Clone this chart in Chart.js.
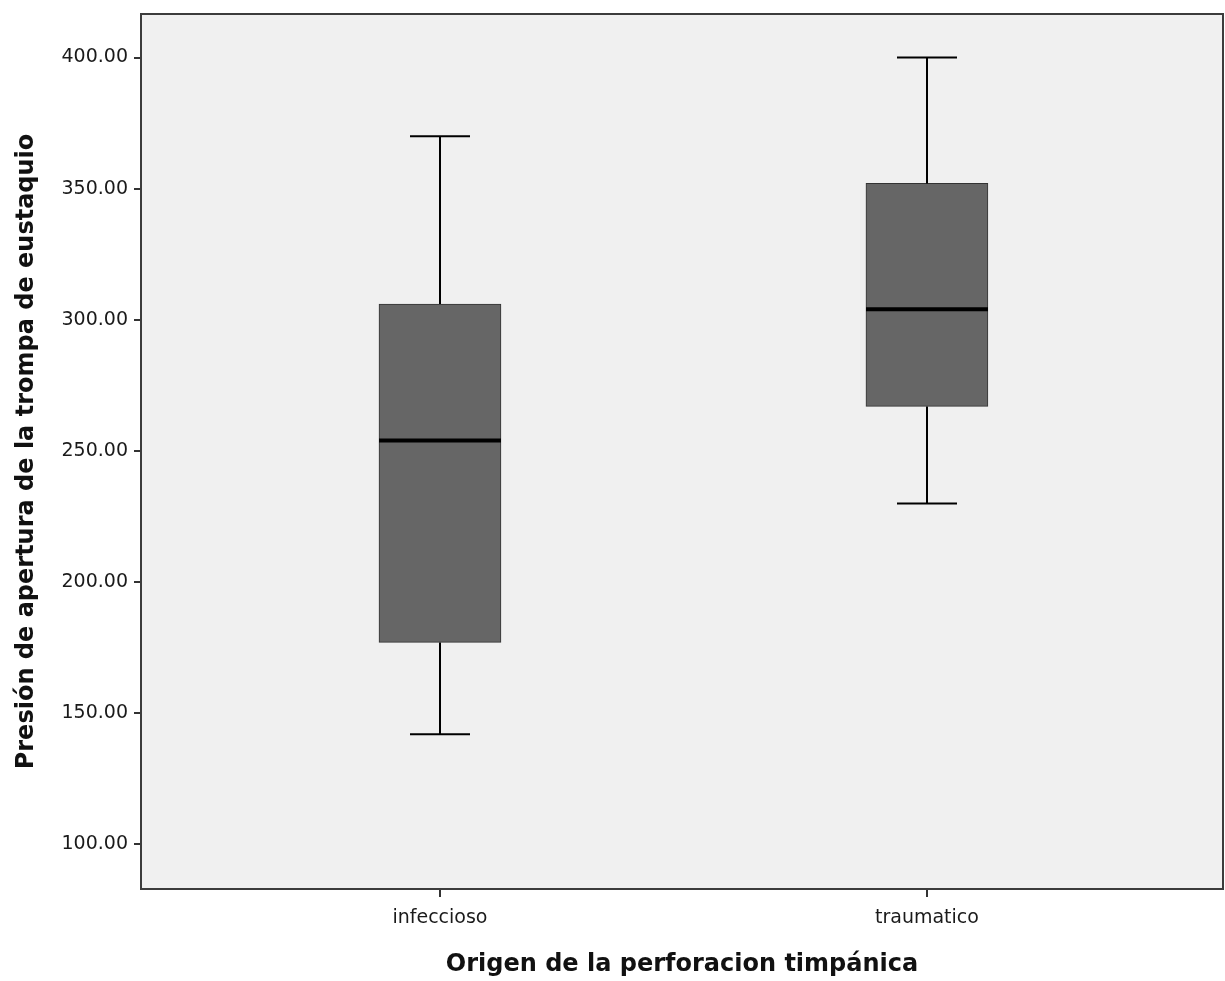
<!DOCTYPE html>
<html>
<head>
<meta charset="utf-8">
<script src="https://cdn.jsdelivr.net/npm/chart.js"></script>
<style>
  body { margin: 0; background: #ffffff; }
  #wrap { width: 1225px; height: 981px; position: relative; }
</style>
</head>
<body>
<div id="wrap"><canvas id="boxCanvas"></canvas></div>
<script>
// data
const categories = ['infeccioso', 'traumatico'];
const minValues = [142, 230];
const q1Values = [177, 267];
const medianValues = [254, 304];
const q3Values = [306, 352];
const maxValues = [370, 400];
const yTicks = [100, 150, 200, 250, 300, 350, 400];

// background, whiskers, caps, median lines and frame
const whiskerPlugin = {
    id: 'whiskers',
    beforeDraw(chart) {
        const a = chart.chartArea;
        const ctx = chart.ctx;
        ctx.save();
        ctx.fillStyle = '#f0f0f0';
        ctx.fillRect(a.left, a.top, a.right - a.left, a.bottom - a.top);
        ctx.restore();
    },
    afterDatasetsDraw(chart) {
        const ctx = chart.ctx;
        const xs = chart.scales.x;
        const ys = chart.scales.y;
        const a = chart.chartArea;
        ctx.save();
        categories.forEach(function (c, i) {
            const x = Math.round(xs.getPixelForValue(i + 1));
            const half = 30;
            ctx.strokeStyle = '#000000';
            ctx.lineWidth = 2;
            ctx.beginPath();
            ctx.moveTo(x, ys.getPixelForValue(maxValues[i]));
            ctx.lineTo(x, ys.getPixelForValue(q3Values[i]));
            ctx.moveTo(x, ys.getPixelForValue(q1Values[i]));
            ctx.lineTo(x, ys.getPixelForValue(minValues[i]));
            ctx.moveTo(x - half, ys.getPixelForValue(maxValues[i]));
            ctx.lineTo(x + half, ys.getPixelForValue(maxValues[i]));
            ctx.moveTo(x - half, ys.getPixelForValue(minValues[i]));
            ctx.lineTo(x + half, ys.getPixelForValue(minValues[i]));
            ctx.stroke();
            ctx.lineWidth = 4;
            ctx.beginPath();
            ctx.moveTo(x - 61, ys.getPixelForValue(medianValues[i]));
            ctx.lineTo(x + 61, ys.getPixelForValue(medianValues[i]));
            ctx.stroke();
        });
        // frame
        ctx.strokeStyle = '#3c3c3c';
        ctx.lineWidth = 2;
        ctx.strokeRect(a.left, a.top, a.right - a.left, a.bottom - a.top);
        ctx.restore();
    }
};

const ctx = document.getElementById('boxCanvas').getContext('2d');
new Chart(ctx, {
    type: 'bar',
    data: {
        datasets: [{
            data: categories.map((c, i) => ({ x: i + 1, y: [q1Values[i], q3Values[i]] })),
            backgroundColor: '#666666',
            borderColor: '#333333',
            borderWidth: 1,
            borderSkipped: false,
            barThickness: 122
        }]
    },
    options: {
        responsive: true,
        maintainAspectRatio: false,
        animation: false,
        plugins: {
            legend: { display: false },
            tooltip: { enabled: false }
        },
        layout: {
            padding: { top: 14, right: 2, bottom: 0, left: 12 }
        },
        scales: {
            x: {
                type: 'linear',
                offset: false,
                min: 0.386,
                max: 2.608,
                afterBuildTicks: function (scale) {
                    scale.ticks = categories.map((c, i) => ({ value: i + 1 }));
                },
                afterFit: function (scale) {
                    scale.height = 92;
                    scale.paddingLeft = 0;
                    scale.paddingRight = 0;
                },
                grid: {
                    display: true,
                    offset: false,
                    drawOnChartArea: false,
                    drawTicks: true,
                    tickLength: 8,
                    color: '#333333',
                    lineWidth: 2
                },
                border: { display: true, color: '#3c3c3c', width: 2 },
                ticks: {
                    autoSkip: false,
                    maxRotation: 0,
                    padding: 10,
                    color: '#1a1a1a',
                    font: { family: 'DejaVu Sans', size: 19 },
                    callback: function (value) {
                        return categories[value - 1];
                    }
                },
                title: {
                    display: true,
                    text: 'Origen de la perforacion timpánica',
                    color: '#111111',
                    font: { family: 'DejaVu Sans', size: 24, weight: 'bold' },
                    padding: { top: 0, bottom: 2 }
                }
            },
            y: {
                min: 83,
                max: 416.6,
                afterBuildTicks: function (scale) {
                    scale.ticks = yTicks.map(v => ({ value: v }));
                },
                afterFit: function (scale) {
                    scale.width = 129;
                    scale.paddingTop = 0;
                    scale.paddingBottom = 0;
                },
                grid: {
                    display: true,
                    drawOnChartArea: false,
                    drawTicks: true,
                    tickLength: 7,
                    color: '#333333',
                    lineWidth: 2
                },
                border: { display: true, color: '#3c3c3c', width: 2 },
                ticks: {
                    padding: 6,
                    color: '#1a1a1a',
                    font: { family: 'DejaVu Sans', size: 19 },
                    callback: function (value) {
                        return value.toFixed(2);
                    }
                },
                title: {
                    display: true,
                    text: 'Presión de apertura de la trompa de eustaquio',
                    color: '#111111',
                    font: { family: 'DejaVu Sans', size: 24, weight: 'bold' },
                    padding: { top: 0, bottom: 0 }
                }
            }
        }
    },
    plugins: [whiskerPlugin]
});
</script>
</body>
</html>
